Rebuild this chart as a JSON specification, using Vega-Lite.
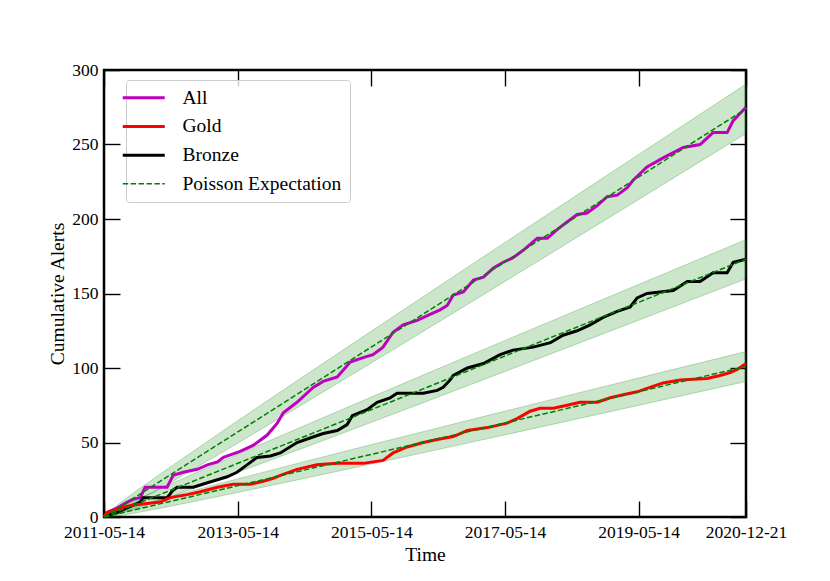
{
  "$schema": "https://vega.github.io/schema/vega-lite/v6.json",
  "width": 642,
  "height": 447,
  "autosize": {"type": "none"},
  "padding": {"left": 104, "top": 70, "right": 84, "bottom": 64},
  "background": "white",
  "config": {
    "font": "Liberation Serif",
    "view": {"stroke": "black", "strokeWidth": 2.5},
    "axis": {
      "grid": false,
      "domain": false,
      "tickColor": "black",
      "tickWidth": 1.4,
      "tickSize": -16,
      "labelFont": "Liberation Serif",
      "labelFontSize": 17.5,
      "labelColor": "black",
      "titleFont": "Liberation Serif",
      "titleFontSize": 19.5,
      "titleFontWeight": "normal",
      "titleColor": "black",
      "labelFlush": false,
      "labelOverlap": false,
      "labelBound": false
    },
    "legend": {
      "orient": "none",
      "legendX": 22,
      "legendY": 10,
      "fillColor": "rgba(255,255,255,0.8)",
      "strokeColor": "#cccccc",
      "cornerRadius": 3,
      "padding": 8,
      "labelFont": "Liberation Serif",
      "labelFontSize": 19.5,
      "labelColor": "black",
      "labelLimit": 400,
      "symbolType": "M-3,0H3",
      "symbolSize": 196,
      "symbolStrokeWidth": 3,
      "labelOffset": 29,
      "rowPadding": 7.7
    }
  },
  "datasets": {
    "steps": [
      {"series": "All", "date": "2011-05-14", "count": 0},
      {"series": "All", "date": "2011-05-30", "count": 3},
      {"series": "All", "date": "2011-07-24", "count": 6},
      {"series": "All", "date": "2011-09-18", "count": 10},
      {"series": "All", "date": "2011-10-20", "count": 12},
      {"series": "All", "date": "2011-11-28", "count": 13},
      {"series": "All", "date": "2011-12-25", "count": 20},
      {"series": "All", "date": "2012-04-23", "count": 20},
      {"series": "All", "date": "2012-05-26", "count": 28},
      {"series": "All", "date": "2012-07-20", "count": 30},
      {"series": "All", "date": "2012-10-05", "count": 32},
      {"series": "All", "date": "2012-11-29", "count": 35},
      {"series": "All", "date": "2013-01-23", "count": 37},
      {"series": "All", "date": "2013-02-25", "count": 40},
      {"series": "All", "date": "2013-05-27", "count": 44},
      {"series": "All", "date": "2013-08-06", "count": 48},
      {"series": "All", "date": "2013-10-22", "count": 55},
      {"series": "All", "date": "2013-12-16", "count": 63},
      {"series": "All", "date": "2014-01-18", "count": 70},
      {"series": "All", "date": "2014-04-03", "count": 77},
      {"series": "All", "date": "2014-06-30", "count": 87},
      {"series": "All", "date": "2014-08-24", "count": 91},
      {"series": "All", "date": "2014-11-09", "count": 94},
      {"series": "All", "date": "2015-01-19", "count": 104},
      {"series": "All", "date": "2015-03-30", "count": 107},
      {"series": "All", "date": "2015-05-23", "count": 109},
      {"series": "All", "date": "2015-07-17", "count": 114},
      {"series": "All", "date": "2015-09-10", "count": 124},
      {"series": "All", "date": "2015-11-04", "count": 129},
      {"series": "All", "date": "2016-01-20", "count": 132},
      {"series": "All", "date": "2016-03-30", "count": 136},
      {"series": "All", "date": "2016-05-24", "count": 139},
      {"series": "All", "date": "2016-07-02", "count": 142},
      {"series": "All", "date": "2016-08-04", "count": 149},
      {"series": "All", "date": "2016-09-28", "count": 151},
      {"series": "All", "date": "2016-11-22", "count": 159},
      {"series": "All", "date": "2017-01-16", "count": 161},
      {"series": "All", "date": "2017-03-10", "count": 167},
      {"series": "All", "date": "2017-05-04", "count": 171},
      {"series": "All", "date": "2017-06-27", "count": 174},
      {"series": "All", "date": "2017-08-21", "count": 179},
      {"series": "All", "date": "2017-11-06", "count": 187},
      {"series": "All", "date": "2017-12-31", "count": 187},
      {"series": "All", "date": "2018-02-24", "count": 193},
      {"series": "All", "date": "2018-04-18", "count": 198},
      {"series": "All", "date": "2018-06-12", "count": 203},
      {"series": "All", "date": "2018-08-05", "count": 204},
      {"series": "All", "date": "2018-09-30", "count": 209},
      {"series": "All", "date": "2018-11-23", "count": 215},
      {"series": "All", "date": "2019-01-17", "count": 216},
      {"series": "All", "date": "2019-03-13", "count": 221},
      {"series": "All", "date": "2019-04-14", "count": 226},
      {"series": "All", "date": "2019-06-29", "count": 235},
      {"series": "All", "date": "2019-09-25", "count": 241},
      {"series": "All", "date": "2020-01-13", "count": 248},
      {"series": "All", "date": "2020-04-14", "count": 250},
      {"series": "All", "date": "2020-06-24", "count": 258},
      {"series": "All", "date": "2020-09-09", "count": 258},
      {"series": "All", "date": "2020-10-12", "count": 266},
      {"series": "All", "date": "2020-12-21", "count": 275},
      {"series": "Bronze", "date": "2011-05-14", "count": 0},
      {"series": "Bronze", "date": "2011-07-24", "count": 3},
      {"series": "Bronze", "date": "2011-10-04", "count": 7},
      {"series": "Bronze", "date": "2011-11-28", "count": 10},
      {"series": "Bronze", "date": "2011-12-14", "count": 13},
      {"series": "Bronze", "date": "2012-04-23", "count": 13},
      {"series": "Bronze", "date": "2012-05-26", "count": 18},
      {"series": "Bronze", "date": "2012-06-17", "count": 20},
      {"series": "Bronze", "date": "2012-09-13", "count": 20},
      {"series": "Bronze", "date": "2012-11-29", "count": 23},
      {"series": "Bronze", "date": "2013-01-23", "count": 25},
      {"series": "Bronze", "date": "2013-03-17", "count": 27},
      {"series": "Bronze", "date": "2013-05-10", "count": 30},
      {"series": "Bronze", "date": "2013-07-04", "count": 35},
      {"series": "Bronze", "date": "2013-08-28", "count": 40},
      {"series": "Bronze", "date": "2013-11-08", "count": 41},
      {"series": "Bronze", "date": "2014-01-02", "count": 43},
      {"series": "Bronze", "date": "2014-04-03", "count": 50},
      {"series": "Bronze", "date": "2014-06-13", "count": 53},
      {"series": "Bronze", "date": "2014-08-24", "count": 56},
      {"series": "Bronze", "date": "2014-11-09", "count": 58},
      {"series": "Bronze", "date": "2015-01-02", "count": 62},
      {"series": "Bronze", "date": "2015-01-30", "count": 68},
      {"series": "Bronze", "date": "2015-04-21", "count": 72},
      {"series": "Bronze", "date": "2015-06-15", "count": 77},
      {"series": "Bronze", "date": "2015-08-25", "count": 80},
      {"series": "Bronze", "date": "2015-10-02", "count": 83},
      {"series": "Bronze", "date": "2016-02-22", "count": 83},
      {"series": "Bronze", "date": "2016-05-08", "count": 85},
      {"series": "Bronze", "date": "2016-06-10", "count": 87},
      {"series": "Bronze", "date": "2016-07-18", "count": 92},
      {"series": "Bronze", "date": "2016-08-04", "count": 95},
      {"series": "Bronze", "date": "2016-10-20", "count": 100},
      {"series": "Bronze", "date": "2017-01-16", "count": 103},
      {"series": "Bronze", "date": "2017-04-17", "count": 109},
      {"series": "Bronze", "date": "2017-06-27", "count": 112},
      {"series": "Bronze", "date": "2017-10-15", "count": 114},
      {"series": "Bronze", "date": "2018-01-17", "count": 117},
      {"series": "Bronze", "date": "2018-03-27", "count": 122},
      {"series": "Bronze", "date": "2018-06-12", "count": 125},
      {"series": "Bronze", "date": "2018-08-22", "count": 129},
      {"series": "Bronze", "date": "2018-11-01", "count": 134},
      {"series": "Bronze", "date": "2019-01-17", "count": 138},
      {"series": "Bronze", "date": "2019-03-29", "count": 141},
      {"series": "Bronze", "date": "2019-05-06", "count": 147},
      {"series": "Bronze", "date": "2019-06-29", "count": 150},
      {"series": "Bronze", "date": "2019-09-09", "count": 151},
      {"series": "Bronze", "date": "2019-11-19", "count": 152},
      {"series": "Bronze", "date": "2020-02-04", "count": 158},
      {"series": "Bronze", "date": "2020-04-14", "count": 158},
      {"series": "Bronze", "date": "2020-06-24", "count": 164},
      {"series": "Bronze", "date": "2020-09-09", "count": 164},
      {"series": "Bronze", "date": "2020-10-12", "count": 171},
      {"series": "Bronze", "date": "2020-12-21", "count": 173},
      {"series": "Gold", "date": "2011-05-14", "count": 0},
      {"series": "Gold", "date": "2011-05-30", "count": 3},
      {"series": "Gold", "date": "2011-08-10", "count": 6},
      {"series": "Gold", "date": "2011-10-20", "count": 8},
      {"series": "Gold", "date": "2012-01-05", "count": 9},
      {"series": "Gold", "date": "2012-03-16", "count": 10},
      {"series": "Gold", "date": "2012-05-10", "count": 13},
      {"series": "Gold", "date": "2012-08-11", "count": 15},
      {"series": "Gold", "date": "2012-10-21", "count": 17},
      {"series": "Gold", "date": "2013-01-23", "count": 20},
      {"series": "Gold", "date": "2013-04-19", "count": 22},
      {"series": "Gold", "date": "2013-07-21", "count": 22},
      {"series": "Gold", "date": "2013-09-30", "count": 24},
      {"series": "Gold", "date": "2013-11-24", "count": 26},
      {"series": "Gold", "date": "2014-01-02", "count": 28},
      {"series": "Gold", "date": "2014-04-03", "count": 32},
      {"series": "Gold", "date": "2014-07-21", "count": 35},
      {"series": "Gold", "date": "2014-11-09", "count": 36},
      {"series": "Gold", "date": "2015-03-30", "count": 36},
      {"series": "Gold", "date": "2015-07-17", "count": 38},
      {"series": "Gold", "date": "2015-09-10", "count": 43},
      {"series": "Gold", "date": "2015-11-26", "count": 47},
      {"series": "Gold", "date": "2016-02-22", "count": 50},
      {"series": "Gold", "date": "2016-05-08", "count": 52},
      {"series": "Gold", "date": "2016-08-04", "count": 54},
      {"series": "Gold", "date": "2016-10-20", "count": 58},
      {"series": "Gold", "date": "2017-02-07", "count": 60},
      {"series": "Gold", "date": "2017-05-25", "count": 63},
      {"series": "Gold", "date": "2017-07-19", "count": 66},
      {"series": "Gold", "date": "2017-09-28", "count": 71},
      {"series": "Gold", "date": "2017-11-22", "count": 73},
      {"series": "Gold", "date": "2018-02-02", "count": 73},
      {"series": "Gold", "date": "2018-04-18", "count": 75},
      {"series": "Gold", "date": "2018-06-28", "count": 77},
      {"series": "Gold", "date": "2018-09-30", "count": 77},
      {"series": "Gold", "date": "2018-12-10", "count": 80},
      {"series": "Gold", "date": "2019-02-19", "count": 82},
      {"series": "Gold", "date": "2019-05-06", "count": 84},
      {"series": "Gold", "date": "2019-07-15", "count": 87},
      {"series": "Gold", "date": "2019-09-25", "count": 90},
      {"series": "Gold", "date": "2019-12-27", "count": 92},
      {"series": "Gold", "date": "2020-05-22", "count": 93},
      {"series": "Gold", "date": "2020-08-01", "count": 95},
      {"series": "Gold", "date": "2020-09-26", "count": 97},
      {"series": "Gold", "date": "2020-11-03", "count": 99},
      {"series": "Gold", "date": "2020-12-21", "count": 103}
    ],
    "poisson": [
      {"group": "All", "date": "2011-05-14", "expected": 0, "lo": 0, "hi": 0},
      {"group": "All", "date": "2011-06-18", "expected": 2.74, "lo": 1.09, "hi": 4.4},
      {"group": "All", "date": "2011-08-10", "expected": 6.85, "lo": 4.23, "hi": 9.47},
      {"group": "All", "date": "2011-11-05", "expected": 13.7, "lo": 10.0, "hi": 17.4},
      {"group": "All", "date": "2012-04-29", "expected": 27.4, "lo": 22.17, "hi": 32.63},
      {"group": "All", "date": "2013-04-15", "expected": 54.8, "lo": 47.4, "hi": 62.2},
      {"group": "All", "date": "2014-04-01", "expected": 82.2, "lo": 73.13, "hi": 91.27},
      {"group": "All", "date": "2015-03-18", "expected": 109.6, "lo": 99.13, "hi": 120.07},
      {"group": "All", "date": "2016-03-03", "expected": 137.0, "lo": 125.3, "hi": 148.7},
      {"group": "All", "date": "2017-02-16", "expected": 164.4, "lo": 151.58, "hi": 177.22},
      {"group": "All", "date": "2018-02-02", "expected": 191.8, "lo": 177.95, "hi": 205.65},
      {"group": "All", "date": "2019-01-19", "expected": 219.2, "lo": 204.4, "hi": 234.0},
      {"group": "All", "date": "2020-01-05", "expected": 246.6, "lo": 230.9, "hi": 262.3},
      {"group": "All", "date": "2020-12-21", "expected": 274.0, "lo": 257.45, "hi": 290.55},
      {"group": "Bronze", "date": "2011-05-14", "expected": 0, "lo": 0, "hi": 0},
      {"group": "Bronze", "date": "2011-06-18", "expected": 1.73, "lo": 0.41, "hi": 3.05},
      {"group": "Bronze", "date": "2011-08-10", "expected": 4.33, "lo": 2.25, "hi": 6.4},
      {"group": "Bronze", "date": "2011-11-05", "expected": 8.65, "lo": 5.71, "hi": 11.59},
      {"group": "Bronze", "date": "2012-04-29", "expected": 17.3, "lo": 13.14, "hi": 21.46},
      {"group": "Bronze", "date": "2013-04-15", "expected": 34.6, "lo": 28.72, "hi": 40.48},
      {"group": "Bronze", "date": "2014-04-01", "expected": 51.9, "lo": 44.7, "hi": 59.1},
      {"group": "Bronze", "date": "2015-03-18", "expected": 69.2, "lo": 60.88, "hi": 77.52},
      {"group": "Bronze", "date": "2016-03-03", "expected": 86.5, "lo": 77.2, "hi": 95.8},
      {"group": "Bronze", "date": "2017-02-16", "expected": 103.8, "lo": 93.61, "hi": 113.99},
      {"group": "Bronze", "date": "2018-02-02", "expected": 121.1, "lo": 110.1, "hi": 132.1},
      {"group": "Bronze", "date": "2019-01-19", "expected": 138.4, "lo": 126.64, "hi": 150.16},
      {"group": "Bronze", "date": "2020-01-05", "expected": 155.7, "lo": 143.22, "hi": 168.18},
      {"group": "Bronze", "date": "2020-12-21", "expected": 173.0, "lo": 159.85, "hi": 186.15},
      {"group": "Gold", "date": "2011-05-14", "expected": 0, "lo": 0, "hi": 0},
      {"group": "Gold", "date": "2011-06-18", "expected": 1.01, "lo": 0.01, "hi": 2.02},
      {"group": "Gold", "date": "2011-08-10", "expected": 2.53, "lo": 0.94, "hi": 4.11},
      {"group": "Gold", "date": "2011-11-05", "expected": 5.05, "lo": 2.8, "hi": 7.3},
      {"group": "Gold", "date": "2012-04-29", "expected": 10.1, "lo": 6.92, "hi": 13.28},
      {"group": "Gold", "date": "2013-04-15", "expected": 20.2, "lo": 15.71, "hi": 24.69},
      {"group": "Gold", "date": "2014-04-01", "expected": 30.3, "lo": 24.8, "hi": 35.81},
      {"group": "Gold", "date": "2015-03-18", "expected": 40.4, "lo": 34.04, "hi": 46.76},
      {"group": "Gold", "date": "2016-03-03", "expected": 50.5, "lo": 43.39, "hi": 57.61},
      {"group": "Gold", "date": "2017-02-16", "expected": 60.6, "lo": 52.82, "hi": 68.39},
      {"group": "Gold", "date": "2018-02-02", "expected": 70.7, "lo": 62.29, "hi": 79.11},
      {"group": "Gold", "date": "2019-01-19", "expected": 80.8, "lo": 71.81, "hi": 89.79},
      {"group": "Gold", "date": "2020-01-05", "expected": 90.9, "lo": 81.37, "hi": 100.43},
      {"group": "Gold", "date": "2020-12-21", "expected": 101.0, "lo": 90.95, "hi": 111.05}
    ]
  },
  "layer": [
    {
      "data": {"name": "poisson"},
      "mark": {"type": "area", "color": "#008000", "fillOpacity": 0.2, "stroke": "#008000", "strokeOpacity": 0.25, "strokeWidth": 1},
      "encoding": {
        "x": {
          "field": "date",
          "type": "temporal",
          "scale": {
            "type": "utc",
            "domain": [
              {"year": 2011, "month": 5, "date": 14, "utc": true},
              {"year": 2020, "month": 12, "date": 21, "utc": true}
            ]
          },
          "axis": {
            "orient": "bottom",
            "title": "Time",
            "titleFontSize": 19.5,
            "format": "%Y-%m-%d",
            "labelPadding": 22,
            "titlePadding": 5,
            "values": [
              {"year": 2011, "month": 5, "date": 14, "utc": true},
              {"year": 2013, "month": 5, "date": 14, "utc": true},
              {"year": 2015, "month": 5, "date": 14, "utc": true},
              {"year": 2017, "month": 5, "date": 14, "utc": true},
              {"year": 2019, "month": 5, "date": 14, "utc": true},
              {"year": 2020, "month": 12, "date": 21, "utc": true}
            ]
          }
        },
        "y": {
          "field": "lo",
          "type": "quantitative",
          "scale": {"domain": [0, 300], "nice": false},
          "axis": {
            "orient": "left",
            "title": "Cumulative Alerts",
            "titleFontSize": 19.5,
            "values": [0, 50, 100, 150, 200, 250, 300],
            "labelPadding": 22,
            "titlePadding": 4
          }
        },
        "y2": {"field": "hi"},
        "detail": {"field": "group"}
      }
    },
    {
      "data": {"name": "steps"},
      "mark": {"type": "line", "strokeWidth": 3},
      "encoding": {
        "x": {
          "field": "date",
          "type": "temporal",
          "axis": {
            "orient": "top",
            "labels": false,
            "title": null,
            "values": [
              {"year": 2011, "month": 5, "date": 14, "utc": true},
              {"year": 2013, "month": 5, "date": 14, "utc": true},
              {"year": 2015, "month": 5, "date": 14, "utc": true},
              {"year": 2017, "month": 5, "date": 14, "utc": true},
              {"year": 2019, "month": 5, "date": 14, "utc": true},
              {"year": 2020, "month": 12, "date": 21, "utc": true}
            ]
          }
        },
        "y": {
          "field": "count",
          "type": "quantitative",
          "axis": {
            "orient": "right",
            "labels": false,
            "title": null,
            "values": [0, 50, 100, 150, 200, 250, 300]
          }
        },
        "color": {
          "field": "series",
          "type": "nominal",
          "scale": {
            "domain": ["All", "Gold", "Bronze", "Poisson Expectation"],
            "range": ["#bf00bf", "#ff0000", "#000000", "#008000"]
          },
          "legend": {
            "title": null,
            "encode": {
              "symbols": {
                "update": {
                  "strokeDash": {"signal": "datum.value === 'Poisson Expectation' ? [5.5, 2.4] : [1, 0]"},
                  "strokeWidth": {"signal": "datum.value === 'Poisson Expectation' ? 1.5 : 3"}
                }
              }
            }
          }
        }
      }
    },
    {
      "data": {"name": "poisson"},
      "mark": {"type": "line", "color": "#008000", "strokeWidth": 1.5, "strokeDash": [5.5, 2.4]},
      "encoding": {
        "x": {"field": "date", "type": "temporal", "axis": null},
        "y": {"field": "expected", "type": "quantitative", "axis": null},
        "detail": {"field": "group"}
      }
    }
  ],
  "resolve": {"axis": {"x": "independent", "y": "independent"}}
}
